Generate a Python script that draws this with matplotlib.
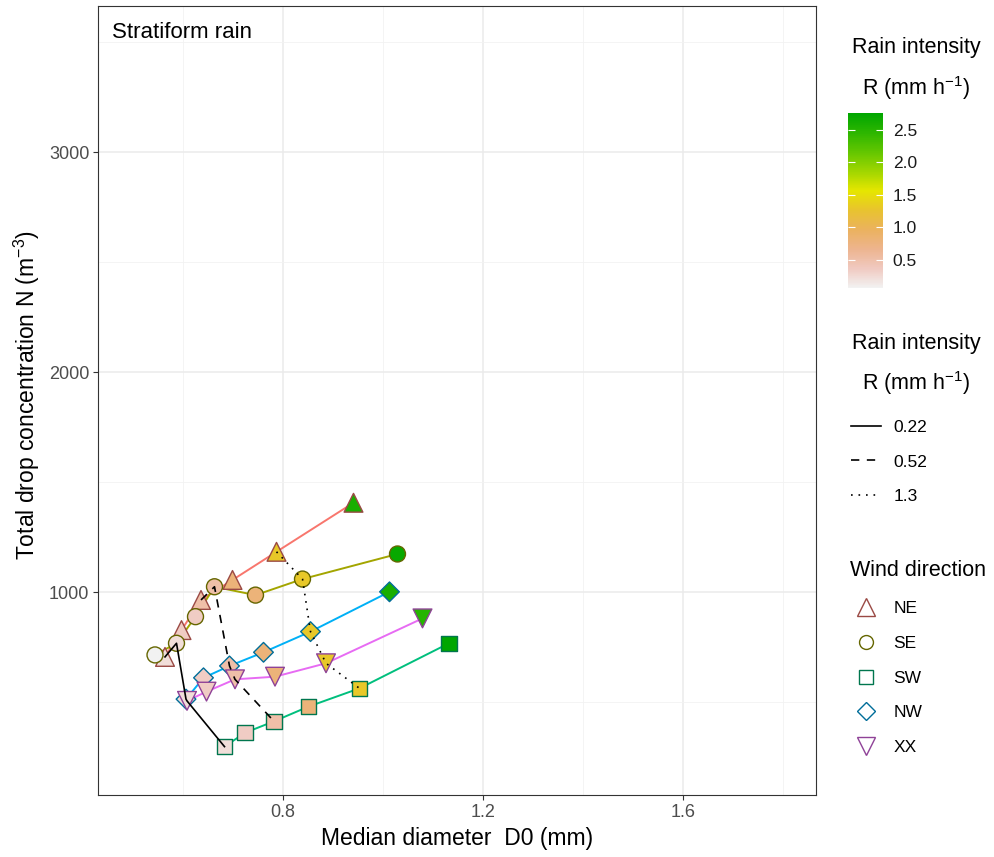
import matplotlib
matplotlib.use("Agg")
import matplotlib.pyplot as plt
from matplotlib.colors import LinearSegmentedColormap, Normalize, to_rgb
from matplotlib.cm import ScalarMappable
from matplotlib.lines import Line2D
from matplotlib.ticker import FormatStrFormatter

plt.rcParams['font.family'] = ['Liberation Sans', 'DejaVu Sans']
plt.rcParams['mathtext.fontset'] = 'custom'
plt.rcParams['mathtext.rm'] = 'Liberation Sans'
plt.rcParams['mathtext.it'] = 'Liberation Sans:italic'

# ---- data ----
directions = ["NE", "SE", "SW", "NW", "XX"]

d0_ne = [0.564, 0.597, 0.636, 0.699, 0.787, 0.941]
n_ne = [705, 827, 964, 1055, 1183, 1406]
r_ne = [0.22, 0.35, 0.52, 0.8, 1.3, 2.6]

d0_se = [0.544, 0.587, 0.625, 0.663, 0.745, 0.839, 1.029]
n_se = [714, 767, 888, 1024, 986, 1059, 1173]
r_se = [0.07, 0.22, 0.35, 0.52, 0.8, 1.3, 2.7]

d0_sw = [0.683, 0.724, 0.782, 0.851, 0.953, 1.132]
n_sw = [297, 360, 412, 479, 562, 767]
r_sw = [0.22, 0.35, 0.52, 0.8, 1.3, 2.76]

d0_nw = [0.606, 0.641, 0.693, 0.761, 0.855, 1.013]
n_nw = [513, 610, 664, 726, 820, 1001]
r_nw = [0.22, 0.35, 0.52, 0.8, 1.3, 2.6]

d0_xx = [0.608, 0.647, 0.704, 0.784, 0.886, 1.079]
n_xx = [505, 547, 603, 615, 676, 880]
r_xx = [0.22, 0.35, 0.52, 0.8, 1.3, 2.5]

iso_levels = [0.22, 0.52, 1.3]
iso_labels = ["0.22", "0.52", "1.3"]
iso_order = ["NE", "SE", "NW", "XX", "SW"]

d0 = dict(zip(directions, [d0_ne, d0_se, d0_sw, d0_nw, d0_xx]))
nt = dict(zip(directions, [n_ne, n_se, n_sw, n_nw, n_xx]))
rr = dict(zip(directions, [r_ne, r_se, r_sw, r_nw, r_xx]))

# ---- styles ----
line_colors = ["#F8766D", "#A3A500", "#00BF7D", "#00B0F6", "#E76BF3"]
markers = ["^", "o", "s", "D", "v"]
msizes = [13.5, 11.5, 11, 10, 13.5]
leg_msizes = [13.5, 10, 9.5, 9, 13.5]
iso_styles = ["-", (0, (5, 4.5)), (0, (1, 3.5))]


def darker(c, f=0.62):
    r, g, b = to_rgb(c)
    return (r * f, g * f, b * f)


edge_colors = [darker(c) for c in line_colors]

# terrain.colors(10) reversed
terrain = ["#F2F2F2", "#F0C9C0", "#EDB48E", "#EBB25E", "#E8C32E",
           "#E6E600", "#A0D600", "#63C600", "#2DB600", "#00A600"]
cmap = LinearSegmentedColormap.from_list("terrain_rev", terrain)
all_r = r_ne + r_se + r_sw + r_nw + r_xx
norm = Normalize(vmin=min(all_r), vmax=max(all_r))

fig = plt.figure(figsize=(9.95, 8.57), dpi=100)
W, H = 995, 857
ax = fig.add_axes([98 / W, 1 - 795 / H, 718 / W, 789 / H])

for i, d in enumerate(directions):
    ax.plot(d0[d], nt[d], color=line_colors[i], lw=1.4, zorder=2)
    ax.scatter(d0[d], nt[d], c=rr[d], cmap=cmap, norm=norm, marker=markers[i],
               s=msizes[i] ** 2, edgecolors=edge_colors[i], linewidths=1.0, zorder=3)

# lines of equal rain intensity
for lev, ls in zip(iso_levels, iso_styles):
    xs, ys = [], []
    for d in iso_order:
        k = rr[d].index(lev)
        xs.append(d0[d][k])
        ys.append(nt[d][k])
    ax.plot(xs, ys, color="black", lw=1.2, ls=ls, zorder=4)

ax.set_xlim(0.43, 1.866)
ax.set_ylim(77, 3665)
ax.set_xticks([0.8, 1.2, 1.6])
ax.set_xticklabels(["0.8", "1.2", "1.6"])
ax.set_xticks([0.6, 1.0, 1.4, 1.8], minor=True)
ax.set_yticks([1000, 2000, 3000])
ax.set_yticks([500, 1500, 2500, 3500], minor=True)
ax.grid(which="major", color="#EBEBEB", lw=1.1)
ax.grid(which="minor", color="#F2F2F2", lw=0.6)
ax.set_axisbelow(True)
ax.tick_params(which="major", length=3.3, width=0.8, color="#333333",
               labelsize=13, labelcolor="#4D4D4D", pad=3)
ax.tick_params(which="minor", length=0)
for s in ax.spines.values():
    s.set_color("#333333")
    s.set_linewidth(0.8)

ax.set_xlabel("Median diameter  D0 (mm)", fontsize=16.5)
ax.xaxis.set_label_coords(0.5, -0.0545)
ax.xaxis.label.set_va("center")
ax.set_ylabel("Total drop concentration N (m$^{-3}$)", fontsize=16.5)
ax.yaxis.set_label_coords(-0.099, 0.507)
ax.yaxis.label.set_va("center")

ax.text(0.02, 0.966, "Stratiform rain", transform=ax.transAxes, fontsize=16,
        ha="left", va="center")

# ---- colour bar legend ----
fig.text(916 / W, 1 - 48 / H, "Rain intensity", fontsize=15.5, ha="center", va="center")
fig.text(916 / W, 1 - 88 / H, "R (mm h$^{-1}$)", fontsize=15.5, ha="center", va="center")
cax = fig.add_axes([848 / W, 1 - 288 / H, 35 / W, 175 / H])
cb = fig.colorbar(ScalarMappable(norm=norm, cmap=cmap), cax=cax)
cb.outline.set_visible(False)
cb.set_ticks([0.5, 1.0, 1.5, 2.0, 2.5])
cax.yaxis.set_major_formatter(FormatStrFormatter("%.1f"))
cax.tick_params(direction="in", color="white", length=5, width=0.8,
                left=True, right=True, labelsize=12.5, labelcolor="#1A1A1A", pad=7)

# ---- line type legend ----
fig.text(916 / W, 1 - 344 / H, "Rain intensity", fontsize=15.5, ha="center", va="center")
fig.text(916 / W, 1 - 383 / H, "R (mm h$^{-1}$)", fontsize=15.5, ha="center", va="center")
iso_handles = [Line2D([], [], color="black", lw=1.2, ls=ls) for ls in iso_styles]
leg1 = fig.legend(iso_handles, iso_labels, loc="center left",
                  bbox_to_anchor=(851 / W, 1 - 462 / H), frameon=False,
                  fontsize=12.5, handlelength=1.7, handletextpad=0.75,
                  labelspacing=1.1, borderpad=0, borderaxespad=0)

# ---- wind direction legend ----
fig.text(850 / W, 1 - 570 / H, "Wind direction", fontsize=15.5, ha="left", va="center")
dir_handles = [Line2D([], [], ls="none", marker=markers[i], markersize=leg_msizes[i],
                      markerfacecolor="white", markeredgecolor=edge_colors[i],
                      markeredgewidth=1.0) for i in range(len(directions))]
leg2 = fig.legend(dir_handles, directions, loc="center left",
                  bbox_to_anchor=(851 / W, 1 - 678 / H), frameon=False,
                  fontsize=12.5, handlelength=1.7, handletextpad=0.75,
                  labelspacing=1.12, borderpad=0, borderaxespad=0)

fig.savefig("out.png", dpi=100)
